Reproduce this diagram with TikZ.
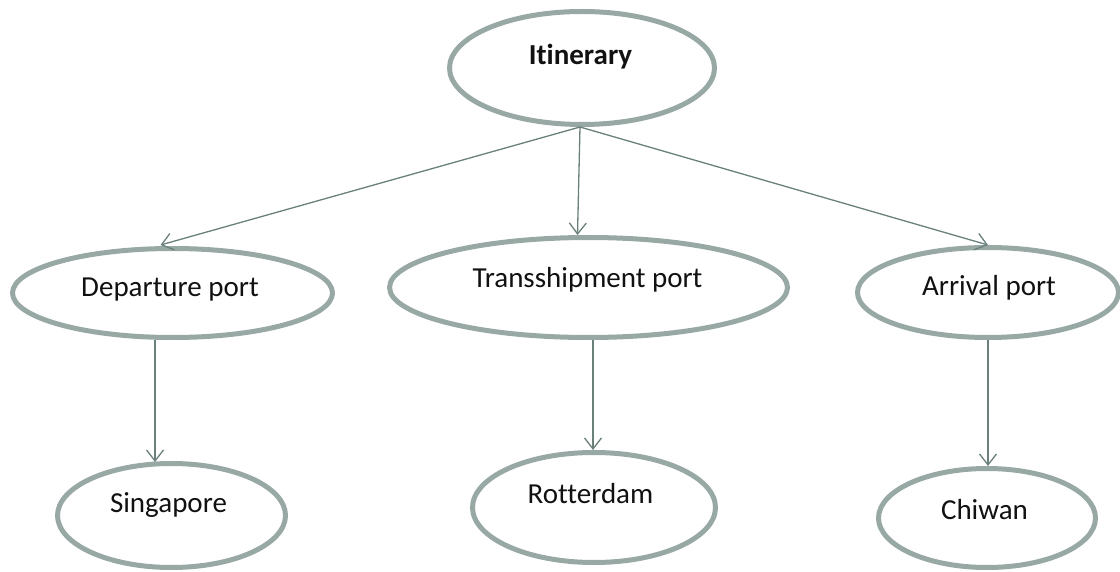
\documentclass[tikz,border=0pt]{standalone}
\usepackage{fontspec}
\setmainfont{Carlito}[Ligatures={NoCommon}]
\usetikzlibrary{arrows.meta, shapes.geometric}
\definecolor{rim}{HTML}{98A9A5}
\definecolor{link}{HTML}{6A807B}
\definecolor{ink}{HTML}{111111}
\tikzset{
  bubble/.style={ellipse, draw=rim, line width=5pt, fill=white, inner sep=0pt},
  word/.style={anchor=base, text=ink, inner sep=0pt, font=\fontsize{29}{30}\selectfont},
  link/.style={draw=link, line width=1.3pt, -{Straight Barb[length=11pt, width=17pt, line width=1.3pt]}}
}
\begin{document}
\begin{tikzpicture}[x=1pt, y=-1pt]
  \useasboundingbox (0,0) rectangle (1120,572);

  % ellipses
  \node[bubble, minimum width=265pt, minimum height=113pt] (itin) at (582,68) {};
  \node[bubble, minimum width=320pt, minimum height=89pt]  (dep)  at (172.5,293) {};
  \node[bubble, minimum width=398pt, minimum height=100pt] (trans) at (588.5,287.5) {};
  \node[bubble, minimum width=261pt, minimum height=90pt]  (arr)  at (988,292.5) {};
  \node[bubble, minimum width=228pt, minimum height=104pt] (sing) at (171.5,515.5) {};
  \node[bubble, minimum width=243pt, minimum height=110pt] (rott) at (594,507.5) {};
  \node[bubble, minimum width=217pt, minimum height=99pt]  (chiw) at (987,518) {};

  % labels
  \node[word, font=\fontsize{29}{30}\selectfont\bfseries] (itinT) at (580.5,65) {Itinerary};
  \node[word] (depT)   at (170,297)   {Departure port};
  \node[word] (transT) at (587.5,288) {Transshipment port};
  \node[word] (arrT)   at (989,296)   {Arrival port};
  \node[word] (singT)  at (168.5,512) {Singapore};
  \node[word] (rottT)  at (590.5,503) {Rotterdam};
  \node[word] (chiwT)  at (984.5,519) {Chiwan};

  % connectors
  \coordinate (hub) at ([xshift=-2pt]itin.south);
  \draw[link] (hub) -- ([xshift=-12pt, yshift=1pt]dep.north);
  \draw[link] (hub) -- ([xshift=-11pt]trans.north);
  \draw[link] (hub) -- (arr.north);
  \draw[link] ([xshift=-17.5pt]dep.south)  -- ([xshift=-16.5pt, yshift=-1pt]sing.north);
  \draw[link] ([xshift=4.5pt]trans.south)  -- ([xshift=-1pt]rott.north);
  \draw[link] (arr.south) -- ([xshift=1pt]chiw.north);
\end{tikzpicture}
\end{document}
